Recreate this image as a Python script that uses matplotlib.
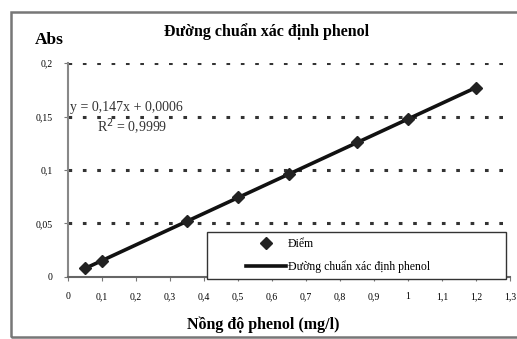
import matplotlib
matplotlib.use('Agg')
import matplotlib.pyplot as plt
import numpy as np

# dữ liệu đường chuẩn
nong_do = [0.05, 0.1, 0.35, 0.5, 0.65, 0.85, 1.0, 1.2]
abs_vals = [0.008, 0.0153, 0.052, 0.075, 0.096, 0.126, 0.148, 0.177]
slope = 0.1471
intercept = 0.0006
x_ticks = [0, 0.1, 0.2, 0.3, 0.4, 0.5, 0.6, 0.7, 0.8, 0.9, 1.0, 1.1, 1.2, 1.3]
y_ticks = [0, 0.05, 0.1, 0.15, 0.2]


def vn(v):
    s = f"{v:g}"
    return s.replace('.', ',')


plt.rcParams['font.family'] = ['Liberation Serif', 'DejaVu Serif']

fig = plt.figure(figsize=(5.17, 3.39), dpi=100)
fig.patch.set_facecolor('white')
ax = fig.add_axes([0.1315, 0.183, 0.855, 0.631])

fit_x = np.array([nong_do[0], nong_do[-1]])
ax.plot(nong_do, abs_vals, linestyle='none', marker='D', markersize=6,
        color='#222222', label='Điểm', zorder=3)
ax.plot(fit_x, slope * fit_x + intercept, color='#111111', linewidth=2.6,
        label='Đường chuẩn xác định phenol', zorder=2)

ax.set_xlim(0, 1.3)
ax.set_ylim(0, 0.2)
ax.set_xticks(x_ticks)
ax.set_xticklabels([vn(v) for v in x_ticks], fontsize=7)
ax.set_yticks(y_ticks)
ax.set_yticklabels([vn(v) for v in y_ticks], fontsize=7)
ax.tick_params(length=3, color='#777777', pad=8)

for v in y_ticks[1:]:
    ax.axhline(v, xmin=0, xmax=0.985, color='#333333', linewidth=2.2,
               linestyle=(0, (1.2, 3.5)), zorder=1)

for s in ['top', 'right']:
    ax.spines[s].set_visible(False)
ax.spines['left'].set_color('#888888')
ax.spines['left'].set_linewidth(1.5)
ax.spines['bottom'].set_color('#666666')
ax.spines['bottom'].set_linewidth(1.5)

ax.text(0.005, 0.155, 'y = 0,147x + 0,0006', fontsize=10, color='#333333')
ax.text(0.085, 0.135, 'R$^2$ = 0,9999', fontsize=10, color='#333333')

# khung chú thích
box = plt.Rectangle((0.315, -0.01), 0.675, 0.22, transform=ax.transAxes,
                    fill=True, facecolor='white', edgecolor='#333333',
                    linewidth=1.0, zorder=4, clip_on=False)
ax.add_patch(box)
leg = ax.legend(loc='center left', bbox_to_anchor=(0.39, 0.1),
                fontsize=8.5, frameon=False, handlelength=3.4,
                handletextpad=0.1, borderpad=0.0, labelspacing=0.85)
leg.set_zorder(5)

fig.text(0.515, 0.895, 'Đường chuẩn xác định phenol', ha='center',
         fontsize=11.5, fontweight='bold')
fig.text(0.068, 0.87, 'Abs', ha='left', fontsize=12.5, fontweight='bold')
fig.text(0.51, 0.03, 'Nồng độ phenol (mg/l)', ha='center', fontsize=11.5,
         fontweight='bold')

border = plt.Rectangle((0.021, 0.006), 0.985, 0.958, transform=fig.transFigure,
                       fill=False, edgecolor='#777777', linewidth=1.8)
fig.add_artist(border)

fig.savefig('out.png', dpi=100, facecolor='white')
